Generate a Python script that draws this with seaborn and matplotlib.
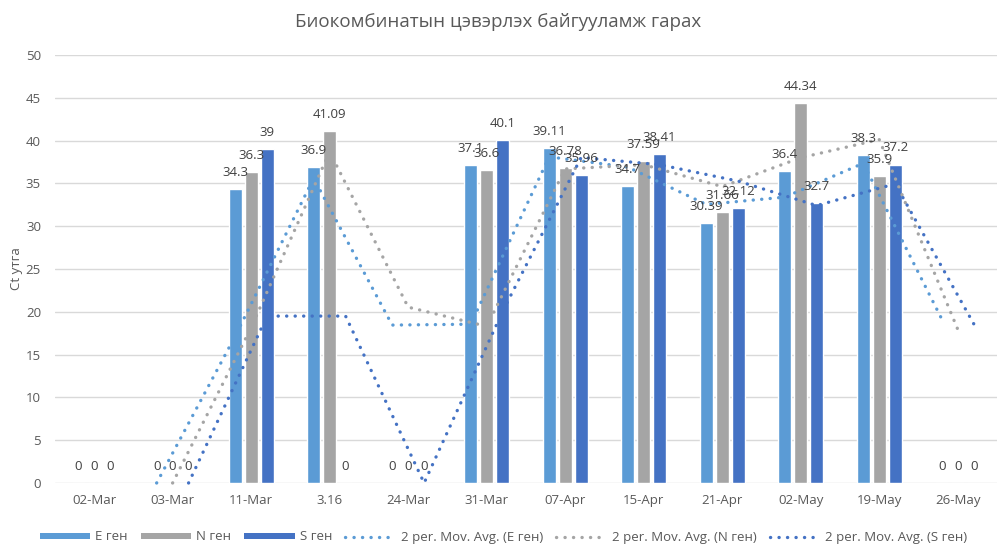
import matplotlib
matplotlib.use("Agg")
import matplotlib.pyplot as plt
from matplotlib.patches import Patch
from matplotlib.lines import Line2D
import pandas as pd
import seaborn as sns

# ---- data -------------------------------------------------------------
dates = ["02-Mar", "03-Mar", "11-Mar", "3.16", "24-Mar", "31-Mar",
         "07-Apr", "15-Apr", "21-Apr", "02-May", "19-May", "26-May"]
e_gene = [0, 0, 34.3, 36.9, 0, 37.1, 39.11, 34.7, 30.39, 36.4, 38.3, 0]
n_gene = [0, 0, 36.3, 41.09, 0, 36.6, 36.78, 37.59, 31.66, 44.34, 35.9, 0]
s_gene = [0, 0, 39, 0, 0, 40.1, 35.96, 38.41, 32.12, 32.7, 37.2, 0]
series_names = ["E ген", "N ген", "S ген"]
colors = ["#5B9BD5", "#A5A5A5", "#4472C4"]

title = "Биокомбинатын цэвэрлэх байгууламж гарах"
y_label = "Ct утга"

# ---- style ------------------------------------------------------------
sns.set_theme(style="white")
plt.rcParams["font.family"] = ["Open Sans", "DejaVu Sans"]
TEXT = "#595959"
LABEL = "#404040"
GRID = "#D9D9D9"

values = [e_gene, n_gene, s_gene]
df = pd.DataFrame({
    "date": dates * 3,
    "gene": [name for name in series_names for _ in dates],
    "value": e_gene + n_gene + s_gene,
})

fig = plt.figure(figsize=(9.97, 5.48), dpi=100)
ax = fig.add_axes([0.055, 1 - 483 / 548, 0.945, (483 - 55) / 548])

group_width = 0.61
sns.barplot(data=df, x="date", y="value", hue="gene", order=dates,
            hue_order=series_names, palette=colors, width=group_width,
            gap=0.18, saturation=1, legend=False, ax=ax, zorder=2)

# data labels above every bar
for cont, vals in zip(ax.containers, values):
    for bar, v in zip(cont, vals):
        ax.annotate(f"{v:g}", (bar.get_x() + bar.get_width() / 2, v),
                    xytext=(0, 12), textcoords="offset points",
                    ha="center", va="center", fontsize=9.5, color=LABEL,
                    zorder=5)

# 2-period moving averages, drawn at each series' bar positions
step = group_width / 3
dot_style = (0, (0.05, 2.5))
for k, (vals, col) in enumerate(zip(values, colors)):
    offset = (k - 1) * step
    xs = [i + offset for i in range(1, len(vals))]
    ma = [(vals[i - 1] + vals[i]) / 2 for i in range(1, len(vals))]
    sns.lineplot(x=xs, y=ma, color=col, lw=2.4, ax=ax, linestyle=dot_style,
                 dash_capstyle="round", zorder=4, clip_on=False)

# ---- axes cosmetics ---------------------------------------------------
ax.set_xlim(-0.5, len(dates) - 0.5)
ax.set_ylim(0, 50)
ax.set_yticks(range(0, 51, 5))
ax.set_xticks(range(len(dates)))
ax.set_xticklabels(dates)
ax.grid(axis="y", color=GRID, lw=1.0, zorder=0)
ax.set_axisbelow(True)
for sp in ax.spines.values():
    sp.set_visible(False)
ax.tick_params(axis="both", length=0, labelsize=9.5, labelcolor=TEXT)
ax.tick_params(axis="x", pad=8)
ax.tick_params(axis="y", pad=10)
ax.set_xlabel("")
ax.set_ylabel(y_label, fontsize=9.5, color=TEXT, labelpad=2)

fig.text(0.5, 1 - 22 / 548, title, ha="center", va="center",
         fontsize=13.5, color=TEXT)

# ---- legend -----------------------------------------------------------
handles = [Patch(facecolor=c, edgecolor="none") for c in colors]
handles += [Line2D([0], [0], color=c, lw=2.4, linestyle=dot_style,
                   dash_capstyle="round") for c in colors]
labels = series_names + [f"2 per. Mov. Avg. ({n})" for n in series_names]
fig.legend(handles, labels, loc="center", bbox_to_anchor=(0.505, 1 - 537 / 548),
           ncol=6, frameon=False, fontsize=9.5, handlelength=3.8,
           handleheight=0.35, handletextpad=0.4, columnspacing=1.0,
           labelcolor=TEXT)

fig.savefig("out.png", dpi=100, facecolor="white")
